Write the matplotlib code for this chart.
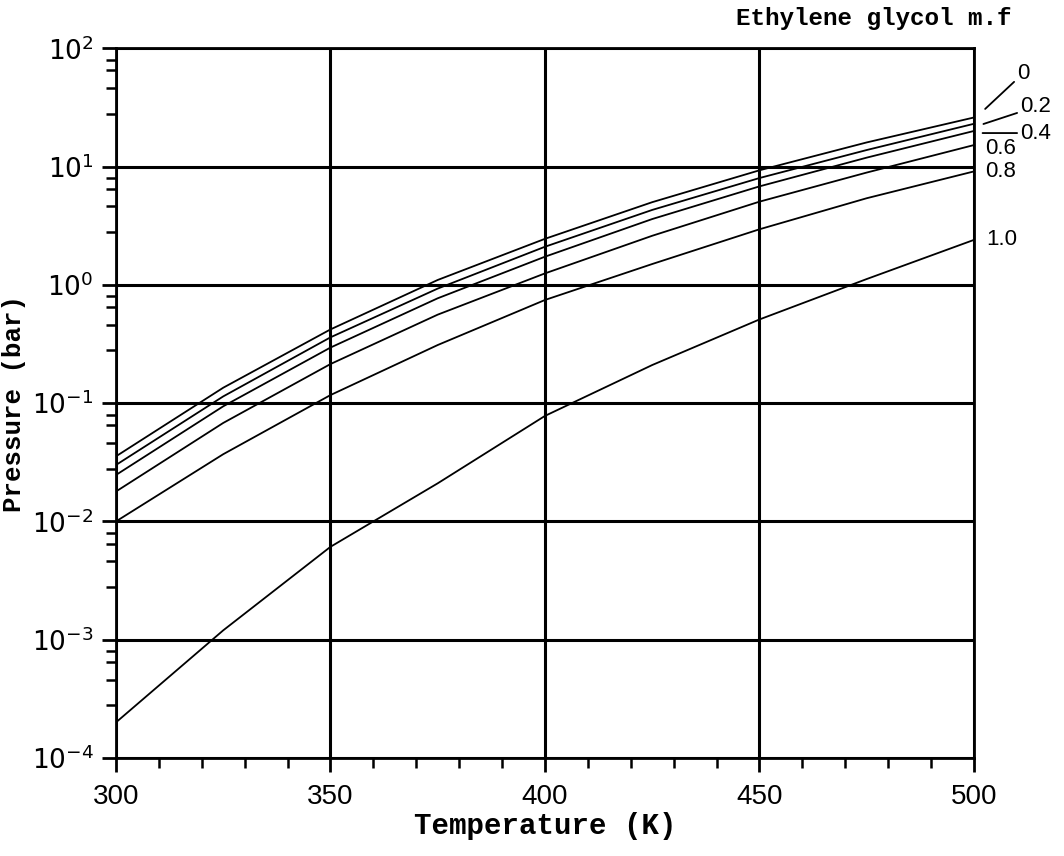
import numpy as np
import matplotlib
matplotlib.use("Agg")
import matplotlib.pyplot as plt
from matplotlib.ticker import FixedLocator, NullFormatter

plt.rcParams['mathtext.fontset'] = 'custom'
plt.rcParams['mathtext.rm'] = 'Liberation Sans'

# temperature (K) and vapour pressure (bar)
temps = [300, 325, 350, 375, 400, 425, 450, 475, 500]
p_00 = [0.0355, 0.135, 0.42, 1.10, 2.45, 5.0, 9.3, 16.0, 26.0]
p_02 = [0.030, 0.114, 0.36, 0.93, 2.10, 4.3, 8.0, 13.8, 23.0]
p_04 = [0.0247, 0.094, 0.295, 0.77, 1.73, 3.6, 6.8, 11.9, 20.0]
p_06 = [0.0179, 0.068, 0.214, 0.56, 1.25, 2.6, 5.05, 8.9, 15.2]
p_08 = [0.0100, 0.037, 0.117, 0.31, 0.745, 1.5, 2.95, 5.4, 9.1]
p_10 = [0.0002, 0.0012, 0.0061, 0.021, 0.078, 0.21, 0.51, 1.12, 2.4]
fractions = ['0', '0.2', '0.4', '0.6', '0.8', '1.0']

x_ticks = [300, 350, 400, 450, 500]
y_ticks = [1e-4, 1e-3, 1e-2, 1e-1, 1e0, 1e1, 1e2]
y_labels = [r'$\mathregular{10^{-4}}$', r'$\mathregular{10^{-3}}$', r'$\mathregular{10^{-2}}$',
            r'$\mathregular{10^{-1}}$', r'$\mathregular{10^{0}}$', r'$\mathregular{10^{1}}$',
            r'$\mathregular{10^{2}}$']

serif_font = {'family': 'Liberation Mono', 'weight': 'bold'}

fig = plt.figure(figsize=(10.64, 8.56), dpi=100)
ax = fig.add_axes([0.109, 0.1145, 0.8064, 0.8291])

for p in [p_00, p_02, p_04, p_06, p_08, p_10]:
    ax.plot(temps, p, color='black', lw=1.3)

ax.set_yscale('log')
ax.set_xlim(300, 500)
ax.set_ylim(1e-4, 1e2)

ax.set_xticks(x_ticks)
ax.set_xticklabels([str(t) for t in x_ticks], fontsize=20, family='Liberation Sans')
ax.xaxis.set_minor_locator(FixedLocator(np.arange(300, 501, 10)))
ax.set_yticks(y_ticks)
ax.set_yticklabels(y_labels, fontsize=19)
ax.yaxis.set_minor_locator(FixedLocator(
    [d * s for d in [1e-4, 1e-3, 1e-2, 1e-1, 1e0, 1e1] for s in [2.8, 4.6, 6.5, 8.0]]))
ax.yaxis.set_minor_formatter(NullFormatter())

ax.tick_params(which='major', direction='out', length=10, width=2, color='black', pad=6)
ax.tick_params(axis='x', which='major', pad=9)
ax.tick_params(which='minor', direction='out', length=7, width=1.8, color='black')

ax.grid(True, which='major', color='black', lw=2.2)
for s in ax.spines.values():
    s.set_linewidth(2)

ax.set_xlabel('Temperature (K)', fontdict=serif_font, fontsize=21, labelpad=1)
ax.set_ylabel('Pressure (bar)', fontdict=serif_font, fontsize=18.5, labelpad=4)

fig.text(0.951, 0.978, 'Ethylene glycol m.f', ha='right', va='center',
         fontdict=serif_font, fontsize=17.5)

# curve labels with leader lines
ax.annotate(fractions[0], xy=(502.6, 30.7), xytext=(510.0, 49.9), annotation_clip=False,
            fontsize=16, family='Liberation Sans', va='bottom', ha='left',
            arrowprops=dict(arrowstyle='-', color='black', lw=1.3, shrinkA=0, shrinkB=0))
ax.annotate(fractions[1], xy=(502.2, 22.9), xytext=(510.7, 31.9), annotation_clip=False,
            fontsize=16, family='Liberation Sans', va='center', ha='left',
            arrowprops=dict(arrowstyle='-', color='black', lw=1.3, shrinkA=0, shrinkB=0))
ax.annotate(fractions[2], xy=(502.0, 19.2), xytext=(510.7, 19.2), annotation_clip=False,
            fontsize=16, family='Liberation Sans', va='center', ha='left',
            arrowprops=dict(arrowstyle='-', color='black', lw=1.3, shrinkA=0, shrinkB=0))
ax.text(502.6, 14.2, fractions[3], fontsize=16, family='Liberation Sans', va='center', ha='left')
ax.text(502.6, 9.0, fractions[4], fontsize=16, family='Liberation Sans', va='center', ha='left')
ax.text(502.8, 2.4, fractions[5], fontsize=16, family='Liberation Sans', va='center', ha='left')

fig.savefig('out.png', dpi=100)
